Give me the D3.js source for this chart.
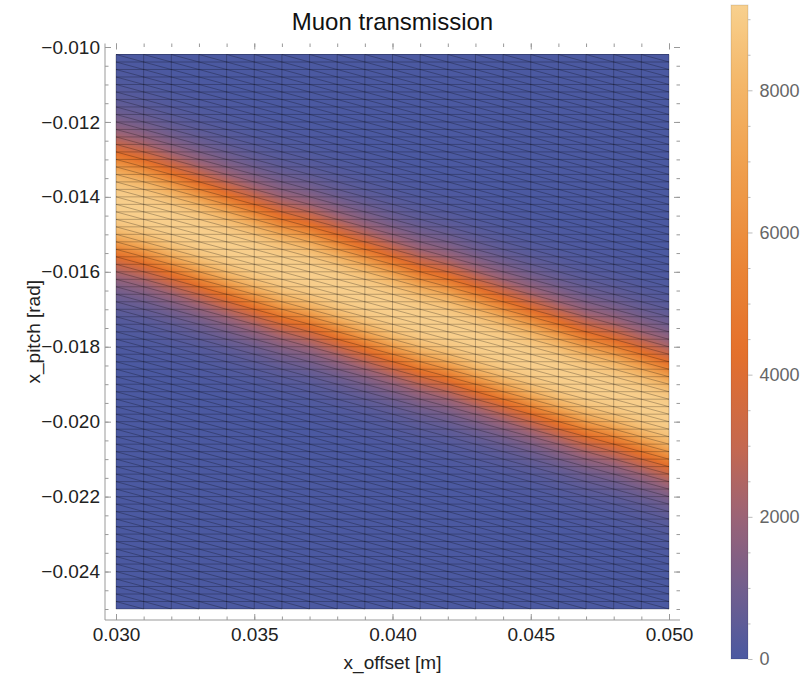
<!DOCTYPE html>
<html>
<head>
<meta charset="utf-8">
<title>Muon transmission</title>
<script src="https://cdn.jsdelivr.net/npm/d3@7"></script>
<style>
  body { margin: 0; background: #fff; }
  text { font-family: "Liberation Sans", Arial, sans-serif; }
</style>
</head>
<body>
<script>
// grid of the scan
var offsets = [0.030,0.031,0.032,0.033,0.034,0.035,0.036,0.037,0.038,0.039,0.040,
               0.041,0.042,0.043,0.044,0.045,0.046,0.047,0.048,0.049,0.050];
var pitches = [-0.0102,-0.0104,-0.0106,-0.0108,-0.0110,-0.0112,-0.0114,-0.0116,-0.0118,-0.0120,
               -0.0122,-0.0124,-0.0126,-0.0128,-0.0130,-0.0132,-0.0134,-0.0136,-0.0138,-0.0140,
               -0.0142,-0.0144,-0.0146,-0.0148,-0.0150,-0.0152,-0.0154,-0.0156,-0.0158,-0.0160,
               -0.0162,-0.0164,-0.0166,-0.0168,-0.0170,-0.0172,-0.0174,-0.0176,-0.0178,-0.0180,
               -0.0182,-0.0184,-0.0186,-0.0188,-0.0190,-0.0192,-0.0194,-0.0196,-0.0198,-0.0200,
               -0.0202,-0.0204,-0.0206,-0.0208,-0.0210,-0.0212,-0.0214,-0.0216,-0.0218,-0.0220,
               -0.0222,-0.0224,-0.0226,-0.0228,-0.0230,-0.0232,-0.0234,-0.0236,-0.0238,-0.0240,
               -0.0242,-0.0244,-0.0246,-0.0248,-0.0250];

// transmitted muons, one array per x_offset, top (pitch -0.0102) to bottom (-0.0250)
var transmission = [
[30,50,80,120,190,290,440,650,920,1290,1760,2360,3140,4150,5430,6780,7910,8550,8920,9080,9150,9080,8920,8550,7910,6780,5430,4150,3140,2360,1760,1290,920,650,440,290,190,120,80,50,30, 0,0,0,0,0,0,0,0,0,0, 0,0,0,0,0,0,0,0,0,0, 0,0,0,0,0,0,0,0,0,0, 0,0,0,0],
[0, 30,50,80,120,190,290,440,650,920,1290,1760,2360,3140,4150,5430,6780,7910,8550,8920,9080,9150,9080,8920,8550,7910,6780,5430,4150,3140,2360,1760,1290,920,650,440,290,190,120,80,50,30, 0,0,0,0,0,0,0,0,0,0, 0,0,0,0,0,0,0,0,0,0, 0,0,0,0,0,0,0,0,0,0, 0,0,0],
[0,0,0, 40,60,100,150,240,360,530,790,1100,1500,2040,2720,3630,4760,6100,7400,8270,8760,9020,9130,9130,9020,8760,8270,7400,6100,4760,3630,2720,2040,1500,1100,790,530,360,240,150,100,60,40, 0,0,0,0,0,0,0,0,0,0, 0,0,0,0,0,0,0,0,0,0, 0,0,0,0,0,0,0,0,0,0, 0,0],
[0,0,0,0, 30,50,80,120,190,290,440,650,920,1290,1760,2360,3140,4150,5430,6780,7910,8550,8920,9080,9150,9080,8920,8550,7910,6780,5430,4150,3140,2360,1760,1290,920,650,440,290,190,120,80,50,30, 0,0,0,0,0,0,0,0,0,0, 0,0,0,0,0,0,0,0,0,0, 0,0,0,0,0,0,0,0,0,0],
[0,0,0,0,0,0, 40,60,100,150,240,360,530,790,1100,1500,2040,2720,3630,4760,6100,7400,8270,8760,9020,9130,9130,9020,8760,8270,7400,6100,4760,3630,2720,2040,1500,1100,790,530,360,240,150,100,60,40, 0,0,0,0,0,0,0,0,0,0, 0,0,0,0,0,0,0,0,0,0, 0,0,0,0,0,0,0,0,0],
[0,0,0,0,0,0,0, 30,50,80,120,190,290,440,650,920,1290,1760,2360,3140,4150,5430,6780,7910,8550,8920,9080,9150,9080,8920,8550,7910,6780,5430,4150,3140,2360,1760,1290,920,650,440,290,190,120,80,50,30, 0,0,0,0,0,0,0,0,0,0, 0,0,0,0,0,0,0,0,0,0, 0,0,0,0,0,0,0],
[0,0,0,0,0,0,0,0,0, 40,60,100,150,240,360,530,790,1100,1500,2040,2720,3630,4760,6100,7400,8270,8760,9020,9130,9130,9020,8760,8270,7400,6100,4760,3630,2720,2040,1500,1100,790,530,360,240,150,100,60,40, 0,0,0,0,0,0,0,0,0,0, 0,0,0,0,0,0,0,0,0,0, 0,0,0,0,0,0],
[0,0,0,0,0,0,0,0,0,0, 40,60,100,150,240,360,530,790,1100,1500,2040,2720,3630,4760,6100,7400,8270,8760,9020,9130,9130,9020,8760,8270,7400,6100,4760,3630,2720,2040,1500,1100,790,530,360,240,150,100,60,40, 0,0,0,0,0,0,0,0,0,0, 0,0,0,0,0,0,0,0,0,0, 0,0,0,0,0],
[0,0,0,0,0,0,0,0,0,0, 0, 30,50,80,120,190,290,440,650,920,1290,1760,2360,3140,4150,5430,6780,7910,8550,8920,9080,9150,9080,8920,8550,7910,6780,5430,4150,3140,2360,1760,1290,920,650,440,290,190,120,80,50,30, 0,0,0,0,0,0,0,0,0,0, 0,0,0,0,0,0,0,0,0,0, 0,0,0],
[0,0,0,0,0,0,0,0,0,0, 0,0,0, 40,60,100,150,240,360,530,790,1100,1500,2040,2720,3630,4760,6100,7400,8270,8760,9020,9130,9130,9020,8760,8270,7400,6100,4760,3630,2720,2040,1500,1100,790,530,360,240,150,100,60,40, 0,0,0,0,0,0,0,0,0,0, 0,0,0,0,0,0,0,0,0,0, 0,0],
[0,0,0,0,0,0,0,0,0,0, 0,0,0,0, 30,50,80,120,190,290,440,650,920,1290,1760,2360,3140,4150,5430,6780,7910,8550,8920,9080,9150,9080,8920,8550,7910,6780,5430,4150,3140,2360,1760,1290,920,650,440,290,190,120,80,50,30, 0,0,0,0,0,0,0,0,0,0, 0,0,0,0,0,0,0,0,0,0],
[0,0,0,0,0,0,0,0,0,0, 0,0,0,0,0,0, 40,60,100,150,240,360,530,790,1100,1500,2040,2720,3630,4760,6100,7400,8270,8760,9020,9130,9130,9020,8760,8270,7400,6100,4760,3630,2720,2040,1500,1100,790,530,360,240,150,100,60,40, 0,0,0,0,0,0,0,0,0,0, 0,0,0,0,0,0,0,0,0],
[0,0,0,0,0,0,0,0,0,0, 0,0,0,0,0,0,0, 40,60,100,150,240,360,530,790,1100,1500,2040,2720,3630,4760,6100,7400,8270,8760,9020,9130,9130,9020,8760,8270,7400,6100,4760,3630,2720,2040,1500,1100,790,530,360,240,150,100,60,40, 0,0,0,0,0,0,0,0,0,0, 0,0,0,0,0,0,0,0],
[0,0,0,0,0,0,0,0,0,0, 0,0,0,0,0,0,0,0, 30,50,80,120,190,290,440,650,920,1290,1760,2360,3140,4150,5430,6780,7910,8550,8920,9080,9150,9080,8920,8550,7910,6780,5430,4150,3140,2360,1760,1290,920,650,440,290,190,120,80,50,30, 0,0,0,0,0,0,0,0,0,0, 0,0,0,0,0,0],
[0,0,0,0,0,0,0,0,0,0, 0,0,0,0,0,0,0,0,0,0, 40,60,100,150,240,360,530,790,1100,1500,2040,2720,3630,4760,6100,7400,8270,8760,9020,9130,9130,9020,8760,8270,7400,6100,4760,3630,2720,2040,1500,1100,790,530,360,240,150,100,60,40, 0,0,0,0,0,0,0,0,0,0, 0,0,0,0,0],
[0,0,0,0,0,0,0,0,0,0, 0,0,0,0,0,0,0,0,0,0, 0, 30,50,80,120,190,290,440,650,920,1290,1760,2360,3140,4150,5430,6780,7910,8550,8920,9080,9150,9080,8920,8550,7910,6780,5430,4150,3140,2360,1760,1290,920,650,440,290,190,120,80,50,30, 0,0,0,0,0,0,0,0,0,0, 0,0,0],
[0,0,0,0,0,0,0,0,0,0, 0,0,0,0,0,0,0,0,0,0, 0,0,0, 40,60,100,150,240,360,530,790,1100,1500,2040,2720,3630,4760,6100,7400,8270,8760,9020,9130,9130,9020,8760,8270,7400,6100,4760,3630,2720,2040,1500,1100,790,530,360,240,150,100,60,40, 0,0,0,0,0,0,0,0,0,0, 0,0],
[0,0,0,0,0,0,0,0,0,0, 0,0,0,0,0,0,0,0,0,0, 0,0,0,0, 30,50,80,120,190,290,440,650,920,1290,1760,2360,3140,4150,5430,6780,7910,8550,8920,9080,9150,9080,8920,8550,7910,6780,5430,4150,3140,2360,1760,1290,920,650,440,290,190,120,80,50,30, 0,0,0,0,0,0,0,0,0,0],
[0,0,0,0,0,0,0,0,0,0, 0,0,0,0,0,0,0,0,0,0, 0,0,0,0,0, 30,50,80,120,190,290,440,650,920,1290,1760,2360,3140,4150,5430,6780,7910,8550,8920,9080,9150,9080,8920,8550,7910,6780,5430,4150,3140,2360,1760,1290,920,650,440,290,190,120,80,50,30, 0,0,0,0,0,0,0,0,0],
[0,0,0,0,0,0,0,0,0,0, 0,0,0,0,0,0,0,0,0,0, 0,0,0,0,0,0,0, 40,60,100,150,240,360,530,790,1100,1500,2040,2720,3630,4760,6100,7400,8270,8760,9020,9130,9130,9020,8760,8270,7400,6100,4760,3630,2720,2040,1500,1100,790,530,360,240,150,100,60,40, 0,0,0,0,0,0,0,0],
[0,0,0,0,0,0,0,0,0,0, 0,0,0,0,0,0,0,0,0,0, 0,0,0,0,0,0,0,0, 30,50,80,120,190,290,440,650,920,1290,1760,2360,3140,4150,5430,6780,7910,8550,8920,9080,9150,9080,8920,8550,7910,6780,5430,4150,3140,2360,1760,1290,920,650,440,290,190,120,80,50,30, 0,0,0,0,0,0]
];

var xTicks = [0.030, 0.035, 0.040, 0.045, 0.050];
var yTicks = [-0.010, -0.012, -0.014, -0.016, -0.018, -0.020, -0.022, -0.024];
var yMinor = [-0.0100,-0.0105,-0.0110,-0.0115,-0.0120,-0.0125,-0.0130,-0.0135,-0.0140,-0.0145,
              -0.0150,-0.0155,-0.0160,-0.0165,-0.0170,-0.0175,-0.0180,-0.0185,-0.0190,-0.0195,
              -0.0200,-0.0205,-0.0210,-0.0215,-0.0220,-0.0225,-0.0230,-0.0235,-0.0240,-0.0245,-0.0250];
var barTicks = [0, 2000, 4000, 6000, 8000];
var barMinor = [500,1000,1500,2500,3000,3500,4500,5000,5500,6500,7000,7500,8500,9000];
var barMax = 9200;

transmission.forEach(function(col, i) {
  if (col.length !== pitches.length) throw new Error("column " + i + " has " + col.length);
});

// styles
var W = 802, H = 677;
var colorDomain = [0, 1000, 2000, 3000, 4300, 5500, 7000, 8200, 9200];
var colorRange = ["#4b59a1", "#725e8d", "#9b6376", "#c5684f", "#e4702b", "#ea8536", "#f0a14f", "#f4b96c", "#f8d08e"];

var x = d3.scaleLinear().domain([offsets[0], offsets[offsets.length - 1]]).range([116, 669]);
var y = d3.scaleLinear().domain([pitches[0], pitches[pitches.length - 1]]).range([54.5, 609]);
var color = d3.scaleLinear().domain(colorDomain).range(colorRange).interpolate(d3.interpolateRgb).clamp(true);
var bar = d3.scaleLinear().domain([0, barMax]).range([659, 5]);

var frameL = 105, frameR = 680, frameT = 43.5, frameB = 620;

var svg = d3.select("body").append("svg").attr("width", W).attr("height", H);

// density: linear interpolation on the triangles of each cell
var cvs = document.createElement("canvas");
cvs.width = W; cvs.height = H;
var ctx = cvs.getContext("2d");
var img = ctx.createImageData(W, H);
var lut = d3.range(1001).map(function(k) { return d3.rgb(color(k / 1000 * barMax)); });
var nC = offsets.length - 1, nR = pitches.length - 1;
var stepX = offsets[1] - offsets[0], stepY = pitches[0] - pitches[1];
for (var py = Math.floor(y(pitches[0])); py < Math.ceil(y(pitches[nR])); py++) {
  var pv = y.invert(py + 0.5);
  var fr = (pitches[0] - pv) / stepY;
  var r = Math.max(0, Math.min(nR - 1, Math.floor(fr)));
  var v = fr - r;
  for (var px = Math.floor(x(offsets[0])); px < Math.ceil(x(offsets[nC])); px++) {
    var ov = x.invert(px + 0.5);
    var fc = (ov - offsets[0]) / stepX;
    var c = Math.max(0, Math.min(nC - 1, Math.floor(fc)));
    var u = fc - c;
    var A = transmission[c][r], B = transmission[c + 1][r],
        C = transmission[c][r + 1], D = transmission[c + 1][r + 1];
    var val = u >= v ? A + (B - A) * (u - v) + (D - A) * v
                     : A + (C - A) * (v - u) + (D - A) * u;
    var k = Math.max(0, Math.min(1000, Math.round(val / barMax * 1000)));
    var col = lut[k], o = (py * W + px) * 4;
    img.data[o] = col.r; img.data[o + 1] = col.g; img.data[o + 2] = col.b; img.data[o + 3] = 255;
  }
}
ctx.putImageData(img, 0, 0);
svg.append("image").attr("x", 0).attr("y", 0).attr("width", W).attr("height", H)
  .attr("href", cvs.toDataURL());

// mesh
var mesh = d3.path();
offsets.forEach(function(o) {
  mesh.moveTo(x(o), y(pitches[0])); mesh.lineTo(x(o), y(pitches[nR]));
});
pitches.forEach(function(p) {
  mesh.moveTo(x(offsets[0]), y(p)); mesh.lineTo(x(offsets[nC]), y(p));
});
for (var i = 0; i < nC; i++) {
  for (var j = 0; j < nR; j++) {
    mesh.moveTo(x(offsets[i]), y(pitches[j]));
    mesh.lineTo(x(offsets[i + 1]), y(pitches[j + 1]));
  }
}
svg.append("path").attr("d", mesh.toString())
  .attr("fill", "none").attr("stroke", "#000").attr("stroke-opacity", 0.33).attr("stroke-width", 0.8);

// frame
function styleAxis(g) {
  g.select(".domain").remove();
  g.selectAll("line").attr("stroke", "#999");
  g.selectAll("text").attr("font-size", 19).attr("fill", "#222").attr("font-family", "Liberation Sans, Arial, sans-serif");
}
svg.append("g").attr("transform", "translate(0," + frameB + ")")
  .call(d3.axisBottom(x).tickValues(offsets).tickSize(-3.5).tickFormat("")).call(styleAxis);
svg.append("g").attr("transform", "translate(0," + frameB + ")")
  .call(d3.axisBottom(x).tickValues(xTicks).tickSize(-6).tickPadding(8).tickFormat(d3.format(".3f"))).call(styleAxis);
svg.append("g").attr("transform", "translate(0," + frameT + ")")
  .call(d3.axisTop(x).tickValues(offsets).tickSize(-3.5).tickFormat("")).call(styleAxis);
svg.append("g").attr("transform", "translate(0," + frameT + ")")
  .call(d3.axisTop(x).tickValues(xTicks).tickSize(-6).tickFormat("")).call(styleAxis);
svg.append("g").attr("transform", "translate(" + frameL + ",0)")
  .call(d3.axisLeft(y).tickValues(yMinor).tickSize(-3.5).tickFormat("")).call(styleAxis);
svg.append("g").attr("transform", "translate(" + frameL + ",0)")
  .call(d3.axisLeft(y).tickValues(yTicks).tickSize(-6).tickPadding(5).tickFormat(d3.format(".3f"))).call(styleAxis);
svg.append("g").attr("transform", "translate(" + frameR + ",0)")
  .call(d3.axisRight(y).tickValues(yMinor).tickSize(-3.5).tickFormat("")).call(styleAxis);
svg.append("g").attr("transform", "translate(" + frameR + ",0)")
  .call(d3.axisRight(y).tickValues(yTicks).tickSize(-6).tickFormat("")).call(styleAxis);

svg.append("line").attr("x1", frameL).attr("x2", frameL).attr("y1", frameT).attr("y2", frameB)
  .attr("stroke", "#999");
svg.append("line").attr("x1", frameL).attr("x2", frameR).attr("y1", frameB).attr("y2", frameB)
  .attr("stroke", "#999");

// titles
svg.append("text").attr("x", (x.range()[0] + x.range()[1]) / 2).attr("y", 30)
  .attr("text-anchor", "middle").attr("font-size", 24).attr("fill", "#111").text("Muon transmission");
svg.append("text").attr("x", (x.range()[0] + x.range()[1]) / 2).attr("y", 669)
  .attr("text-anchor", "middle").attr("font-size", 19).attr("fill", "#222").text("x_offset [m]");
svg.append("text").attr("transform", "translate(40," + ((y.range()[0] + y.range()[1]) / 2) + ") rotate(-90)")
  .attr("text-anchor", "middle").attr("font-size", 19).attr("fill", "#222").text("x_pitch [rad]");

// colour bar
var grad = svg.append("defs").append("linearGradient").attr("id", "bargrad")
  .attr("x1", 0).attr("y1", 1).attr("x2", 0).attr("y2", 0);
grad.selectAll("stop").data(d3.range(0, 1.0001, 0.02)).enter().append("stop")
  .attr("offset", function(t) { return t; })
  .attr("stop-color", function(t) { return color(t * barMax); });
svg.append("rect").attr("x", 731).attr("y", bar(barMax)).attr("width", 17).attr("height", bar(0) - bar(barMax))
  .attr("fill", "url(#bargrad)").attr("stroke", "#000").attr("stroke-opacity", 0.12);
var barG = svg.append("g").attr("transform", "translate(748,0)");
barG.append("g").call(d3.axisRight(bar).tickValues(barMinor).tickSize(2.5).tickFormat("")).call(styleAxis);
barG.append("g").call(d3.axisRight(bar).tickValues(barTicks).tickSize(4.5).tickPadding(7).tickFormat(d3.format("d"))).call(styleAxis);
barG.selectAll("text").attr("fill", "#666").attr("font-size", 18);
barG.selectAll("line").attr("stroke", "#bbb");
</script>
</body>
</html>
